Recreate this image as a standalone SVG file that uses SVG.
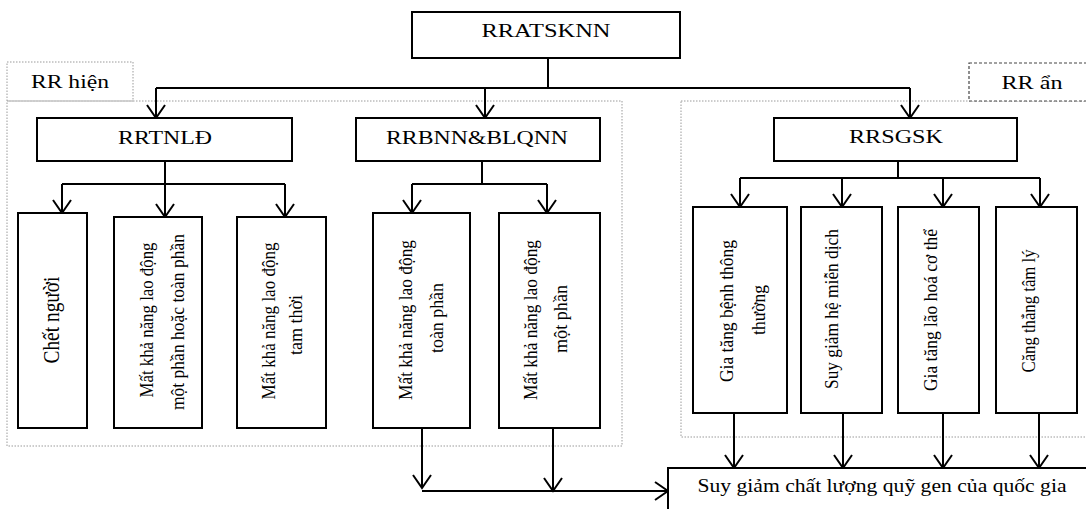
<svg xmlns="http://www.w3.org/2000/svg" width="1086" height="509" viewBox="0 0 1086 509">
<style>
.box{fill:#fff;stroke:#000;stroke-width:2}
.grp{fill:none;stroke:#9a9a9a;stroke-width:1;stroke-dasharray:1.5 1.5}
.dash{fill:#fff;stroke:#444;stroke-width:1.2;stroke-dasharray:3 2}
.t{font-family:"Liberation Serif","Times New Roman",serif;font-size:18px;fill:#000;text-anchor:middle}
.v{font-family:"Liberation Serif","Times New Roman",serif;font-size:18px;fill:#000;text-anchor:middle}
.c{fill:none;stroke:#000;stroke-width:2}
</style>
<defs>
<marker id="ah" markerUnits="userSpaceOnUse" viewBox="-15 -11 17 22" refX="0" refY="0" markerWidth="17" markerHeight="22" orient="auto" overflow="visible">
<path d="M-13,-9 L0,0 L-13,9" fill="none" stroke="#000" stroke-width="2"/>
</marker>
</defs>
<rect width="1086" height="509" fill="#fff"/>
<g id="groups">
<rect id="grp-hien" class="grp" x="7" y="101" width="615" height="345"/>
<rect id="grp-an" class="grp" x="681" y="101" width="415" height="336"/>
</g>
<g id="lbl-hien"><rect class="grp" x="7" y="62" width="126" height="39"/><text class="t" x="70" y="88" textLength="78" lengthAdjust="spacingAndGlyphs">RR hiện</text></g>
<g id="lbl-an"><rect class="dash" x="969" y="63" width="125" height="38"/><text class="t" x="1032" y="89" textLength="61" lengthAdjust="spacingAndGlyphs">RR ẩn</text></g>
<g id="connectors">
<path class="c" d="M548,58 V88 M156,88 H910"/>
<path class="c" marker-end="url(#ah)" d="M156,88 V118"/>
<path class="c" marker-end="url(#ah)" d="M485,88 V118"/>
<path class="c" marker-end="url(#ah)" d="M910,88 V118"/>
<path class="c" d="M165,161 V184 M62,184 H285"/>
<path class="c" marker-end="url(#ah)" d="M62,184 V213"/>
<path class="c" marker-end="url(#ah)" d="M165,184 V217"/>
<path class="c" marker-end="url(#ah)" d="M285,184 V217"/>
<path class="c" d="M482,161 V184 M412,184 H547"/>
<path class="c" marker-end="url(#ah)" d="M412,184 V213"/>
<path class="c" marker-end="url(#ah)" d="M547,184 V213"/>
<path class="c" d="M898,161 V178 M740,178 H1040"/>
<path class="c" marker-end="url(#ah)" d="M740,178 V207"/>
<path class="c" marker-end="url(#ah)" d="M842,178 V207"/>
<path class="c" marker-end="url(#ah)" d="M943,178 V207"/>
<path class="c" marker-end="url(#ah)" d="M1040,178 V207"/>
<path class="c" marker-end="url(#ah)" d="M422,428 V488"/>
<path class="c" marker-end="url(#ah)" d="M553,428 V491"/>
<path class="c" marker-end="url(#ah)" d="M422,491 H668"/>
<path class="c" marker-end="url(#ah)" d="M734,413 V468"/>
<path class="c" marker-end="url(#ah)" d="M843,413 V468"/>
<path class="c" marker-end="url(#ah)" d="M943,413 V468"/>
<path class="c" marker-end="url(#ah)" d="M1039,413 V468"/>
</g>
<g id="n-rratsknn"><rect class="box" x="412" y="12" width="268" height="46"/><text class="t" x="546" y="37" textLength="129" lengthAdjust="spacingAndGlyphs">RRATSKNN</text></g>
<g id="n-rrtnld"><rect class="box" x="37" y="118" width="255" height="43"/><text class="t" x="165" y="144" textLength="94" lengthAdjust="spacingAndGlyphs">RRTNLĐ</text></g>
<g id="n-rrbnn"><rect class="box" x="356" y="118" width="244" height="43"/><text class="t" x="477" y="144" textLength="182" lengthAdjust="spacingAndGlyphs">RRBNN&amp;BLQNN</text></g>
<g id="n-rrsgsk"><rect class="box" x="774" y="118" width="243" height="43"/><text class="t" x="896" y="143" textLength="94" lengthAdjust="spacingAndGlyphs">RRSGSK</text></g>
<g id="n-chet"><rect class="box" x="18" y="213" width="69" height="215"/><text class="v" style="font-size:24px" transform="translate(59,320) rotate(-90)" textLength="87" lengthAdjust="spacingAndGlyphs">Chết người</text></g>
<g id="n-mat1"><rect class="box" x="114" y="217" width="88" height="211"/>
<text class="v" transform="translate(153,320) rotate(-90)" textLength="155" lengthAdjust="spacingAndGlyphs">Mất khả năng lao động</text>
<text class="v" transform="translate(184,322) rotate(-90)" textLength="176" lengthAdjust="spacingAndGlyphs">một phần hoặc toàn phần</text></g>
<g id="n-mat2"><rect class="box" x="237" y="217" width="89" height="211"/>
<text class="v" transform="translate(275,321) rotate(-90)" textLength="157" lengthAdjust="spacingAndGlyphs">Mất khả năng lao động</text>
<text class="v" transform="translate(302,325) rotate(-90)" textLength="60" lengthAdjust="spacingAndGlyphs">tam thời</text></g>
<g id="n-mat3"><rect class="box" x="373" y="213" width="97" height="215"/>
<text class="v" transform="translate(412,320) rotate(-90)" textLength="160" lengthAdjust="spacingAndGlyphs">Mất khả năng lao động</text>
<text class="v" transform="translate(443,318) rotate(-90)" textLength="70" lengthAdjust="spacingAndGlyphs">toàn phần</text></g>
<g id="n-mat4"><rect class="box" x="499" y="213" width="101" height="215"/>
<text class="v" transform="translate(537,320) rotate(-90)" textLength="160" lengthAdjust="spacingAndGlyphs">Mất khả năng lao động</text>
<text class="v" transform="translate(567,319) rotate(-90)" textLength="68" lengthAdjust="spacingAndGlyphs">một phần</text></g>
<g id="n-gia1"><rect class="box" x="693" y="207" width="94" height="206"/>
<text class="v" transform="translate(733,311) rotate(-90)" textLength="142" lengthAdjust="spacingAndGlyphs">Gia tăng bệnh thông</text>
<text class="v" transform="translate(765,310) rotate(-90)" textLength="50" lengthAdjust="spacingAndGlyphs">thường</text></g>
<g id="n-suy"><rect class="box" x="801" y="207" width="81" height="206"/>
<text class="v" transform="translate(838,309) rotate(-90)" textLength="160" lengthAdjust="spacingAndGlyphs">Suy giảm hệ miễn dịch</text></g>
<g id="n-gia2"><rect class="box" x="898" y="207" width="81" height="206"/>
<text class="v" transform="translate(937,310) rotate(-90)" textLength="162" lengthAdjust="spacingAndGlyphs">Gia tăng lão hoá cơ thể</text></g>
<g id="n-cang"><rect class="box" x="996" y="207" width="81" height="206"/>
<text class="v" transform="translate(1035,311) rotate(-90)" textLength="123" lengthAdjust="spacingAndGlyphs">Căng thẳng tâm lý</text></g>
<g id="n-final"><rect class="box" x="668" y="468" width="430" height="50"/><text class="t" x="882" y="492" textLength="369" lengthAdjust="spacingAndGlyphs">Suy giảm chất lượng quỹ gen của quốc gia</text></g>
</svg>
